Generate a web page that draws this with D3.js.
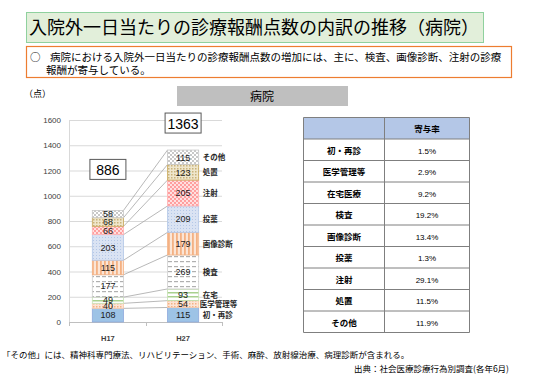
<!DOCTYPE html>
<html>
<head>
<meta charset="utf-8">
<script src="https://cdn.jsdelivr.net/npm/d3@7"></script>
<style>
body { margin: 0; background: #fff; }
svg { font-family: "Noto Sans CJK JP", "Noto Sans", sans-serif; }
</style>
</head>
<body>
<div class="chart"></div>
<script>
const WIDTH = 534;
const HEIGHT = 375;

// data
const years = ['H17', 'H27'];
const categories = ['初・再診', '医学管理等', '在宅', '検査', '画像診断', '投薬', '注射', '処置', 'その他'];
const valuesH17 = [108, 40, 49, 177, 115, 203, 66, 68, 58];
const valuesH27 = [115, 54, 93, 269, 179, 209, 205, 123, 115];
const totals = [886, 1363];
const yTicks = [0, 200, 400, 600, 800, 1000, 1200, 1400, 1600];
const tableItems = ['初・再診', '医学管理等', '在宅医療', '検査', '画像診断', '投薬', '注射', '処置', 'その他'];
const contribution = ['1.5%', '2.9%', '9.2%', '19.2%', '13.4%', '1.3%', '29.1%', '11.5%', '11.9%'];

var translate = function(x, y){
	return "translate(" + x + "," + y + ")";
};

var svg = d3.select('.chart').append('svg')
	.attr('width', WIDTH)
	.attr('height', HEIGHT);

// patterns
var defs = svg.append('defs');
var pat = function(id, w, h, bg){
	var p = defs.append('pattern').attr('id', id)
		.attr('patternUnits', 'userSpaceOnUse')
		.attr('width', w).attr('height', h);
	p.append('rect').attr('width', w).attr('height', h).attr('fill', bg);
	return p;
};
var p;
pat('p0', 4, 4, '#9dc3e6');
p = pat('p1', 3, 3, '#fce4d6');
p.append('rect').attr('x', 0).attr('y', 0).attr('width', 1.5).attr('height', 1.5).attr('fill', '#f4b183');
p = pat('p2', 4, 4, '#ffffff');
p.append('rect').attr('x', 0).attr('y', 0).attr('width', 4).attr('height', 1.5).attr('fill', '#a9d18e');
p = pat('p3', 6, 5, '#ffffff');
p.append('rect').attr('x', 0).attr('y', 1).attr('width', 4).attr('height', 1.2).attr('fill', '#b0b0b0');
p = pat('p4', 4, 4, '#fbe5d6');
p.append('rect').attr('x', 0).attr('y', 0).attr('width', 1.8).attr('height', 4).attr('fill', '#f4b183');
p = pat('p5', 3, 3, '#dae3f3');
p.append('rect').attr('x', 0).attr('y', 0).attr('width', 1).attr('height', 1).attr('fill', '#b4c7e7');
p = pat('p6', 4, 4, '#ffe0e0');
p.append('circle').attr('cx', 1).attr('cy', 1).attr('r', 0.9).attr('fill', '#ff8080');
p.append('circle').attr('cx', 3).attr('cy', 3).attr('r', 0.9).attr('fill', '#ff8080');
p = pat('p7', 3, 3, '#efe6cc');
p.append('rect').attr('x', 0).attr('y', 0).attr('width', 1.5).attr('height', 1.5).attr('fill', '#c9b27a');
p = pat('p8', 4, 4, '#ffffff');
p.append('rect').attr('x', 0).attr('y', 0).attr('width', 2).attr('height', 2).attr('fill', '#c8c8c8');
p.append('rect').attr('x', 2).attr('y', 2).attr('width', 2).attr('height', 2).attr('fill', '#c8c8c8');

const strokes = ['#8faadc', '#f8cbad', '#c5e0b4', '#d0d0d0', '#f4b183', '#b4c7e7', '#ffb3b3', '#c9a85a', '#c8c8c8'];

// title
svg.append('rect').attr('x', 26.5).attr('y', 12.5).attr('width', 457).attr('height', 30)
	.attr('fill', '#e2efda').attr('stroke', '#8fd19e').attr('stroke-width', 1);
svg.append('text').attr('x', 254).attr('y', 34).attr('text-anchor', 'middle')
	.attr('font-size', 18).attr('fill', '#000')
	.text('入院外一日当たりの診療報酬点数の内訳の推移（病院）');

// note box
svg.append('rect').attr('x', 26.5).attr('y', 46.5).attr('width', 485).attr('height', 31)
	.attr('fill', '#fff').attr('stroke', '#ed7d31').attr('stroke-width', 1.2);
svg.append('text').attr('x', 30).attr('y', 61).attr('font-size', 10.5).text('○');
svg.append('text').attr('x', 50).attr('y', 61).attr('font-size', 10.5)
	.text('病院における入院外一日当たりの診療報酬点数の増加には、主に、検査、画像診断、注射の診療');
svg.append('text').attr('x', 46).attr('y', 74).attr('font-size', 10.5).text('報酬が寄与している。');

// header
svg.append('rect').attr('x', 177).attr('y', 86).attr('width', 171).attr('height', 20).attr('fill', '#bfbfbf');
svg.append('text').attr('x', 262).attr('y', 101).attr('text-anchor', 'middle')
	.attr('font-size', 12).text('病院');

svg.append('text').attr('x', 24).attr('y', 97).attr('font-size', 9).text('（点）');

// chart
const X0 = 69, X1 = 222, Y0 = 322, Y1 = 120;
var xScale = d3.scaleBand().domain(years).range([X0, X1]).paddingInner(0.585).paddingOuter(0.31);
var yScale = d3.scaleLinear().domain([0, 1600]).range([Y0, Y1]);

var yAxis = d3.axisLeft(yScale).tickValues(yTicks).tickFormat(d3.format('d')).tickSize(0).tickPadding(8);
var gy = svg.append('g').attr('transform', translate(X0, 0)).call(yAxis);
gy.select('.domain').remove();
gy.selectAll('text').attr('font-size', 8).attr('fill', '#404040').attr('font-family', 'Liberation Sans, Arial, sans-serif');

svg.append('g').selectAll('line').data(yTicks.slice(1)).enter().append('line')
	.attr('x1', X0).attr('x2', X1)
	.attr('y1', function(d){ return yScale(d) + 0.5; })
	.attr('y2', function(d){ return yScale(d) + 0.5; })
	.attr('stroke', '#d9d9d9');
svg.append('line').attr('x1', X0).attr('x2', X1).attr('y1', Y0 + 0.5).attr('y2', Y0 + 0.5).attr('stroke', '#bfbfbf');
svg.append('line').attr('x1', X0 + 0.5).attr('x2', X0 + 0.5).attr('y1', Y1).attr('y2', Y0).attr('stroke', '#d9d9d9');
var sep = [X0, X0 + (X1 - X0) / 2, X1];
svg.append('g').selectAll('line').data(sep).enter().append('line')
	.attr('x1', function(d){ return Math.round(d) + 0.5; })
	.attr('x2', function(d){ return Math.round(d) + 0.5; })
	.attr('y1', Y0).attr('y2', Y0 + 4).attr('stroke', '#bfbfbf');

svg.append('g').selectAll('text').data(years).enter().append('text')
	.attr('x', function(d){ return xScale(d) + xScale.bandwidth() / 2; })
	.attr('y', 341).attr('text-anchor', 'middle').attr('font-size', 7.5)
	.attr('font-weight', 'bold').attr('fill', '#404040')
	.attr('font-family', 'Liberation Sans, Arial, sans-serif')
	.text(function(d){ return d; });

var rows = [valuesH17, valuesH27].map(function(vals, i){
	var r = { year: years[i] };
	categories.forEach(function(c, j){ r[c] = vals[j]; });
	return r;
});
var series = d3.stack().keys(categories)(rows);

// connector lines
var bw = xScale.bandwidth();
svg.append('g').selectAll('line').data(series).enter().append('line')
	.attr('x1', xScale('H17') + bw)
	.attr('y1', function(s){ return yScale(s[0][1]); })
	.attr('x2', xScale('H27'))
	.attr('y2', function(s){ return yScale(s[1][1]); })
	.attr('stroke', '#a6a6a6').attr('stroke-width', 0.8);

var layers = svg.append('g').selectAll('g').data(series).enter().append('g')
	.attr('fill', function(s, i){ return 'url(#p' + i + ')'; })
	.attr('stroke', function(s, i){ return strokes[i]; });
layers.selectAll('rect').data(function(s){ return s; }).enter().append('rect')
	.attr('x', function(d){ return xScale(d.data.year); })
	.attr('y', function(d){ return yScale(d[1]); })
	.attr('width', bw)
	.attr('height', function(d){ return yScale(d[0]) - yScale(d[1]); })
	.attr('stroke-width', 0.8);

// value labels
series.forEach(function(s){
	s.forEach(function(d){
		var v = d[1] - d[0];
		svg.append('text')
			.attr('x', xScale(d.data.year) + bw / 2)
			.attr('y', (yScale(d[0]) + yScale(d[1])) / 2 + 3.2)
			.attr('text-anchor', 'middle').attr('font-size', 9).attr('fill', '#1a1a1a')
			.attr('font-family', 'Liberation Sans, Arial, sans-serif')
			.text(v);
	});
});

// right labels for H27
series.forEach(function(s, i){
	var d = s[1];
	svg.append('text')
		.attr('x', xScale('H27') + bw + (i === 1 ? 1 : 4))
		.attr('y', (yScale(d[0]) + yScale(d[1])) / 2 + 3)
		.attr('font-size', 7.5).attr('font-weight', 'bold').attr('fill', '#262626')
		.text(categories[i]);
});

// totals boxes
var totalBoxes = [
	{ year: 'H17', value: totals[0], top: valuesH17.reduce(function(a, b){ return a + b; }, 0) },
	{ year: 'H27', value: totals[1], top: valuesH27.reduce(function(a, b){ return a + b; }, 0) }
];
var tb = svg.append('g').selectAll('g').data(totalBoxes).enter().append('g');
tb.append('rect')
	.attr('x', function(d){ return xScale(d.year) + bw / 2 - 18; })
	.attr('y', function(d){ return yScale(d.top) - (d.year === 'H17' ? 51 : 37); })
	.attr('width', 36).attr('height', 20)
	.attr('fill', '#fff').attr('stroke', '#595959');
tb.append('text')
	.attr('x', function(d){ return xScale(d.year) + bw / 2; })
	.attr('y', function(d){ return yScale(d.top) - (d.year === 'H17' ? 35 : 21); })
	.attr('text-anchor', 'middle').attr('font-size', 14)
	.attr('font-family', 'Liberation Sans, Arial, sans-serif')
	.text(function(d){ return d.value; });

// table
const TX = 303.5, TY = 117.5, COL = 81, COL2 = 85, RH = 21.5;
var table = svg.append('g');
table.append('rect').attr('x', TX).attr('y', TY).attr('width', COL + COL2).attr('height', RH)
	.attr('fill', '#b4c7e7');
table.append('text').attr('x', TX + COL + COL2 / 2).attr('y', TY + 14.5).attr('text-anchor', 'middle')
	.attr('font-size', 8.5).attr('font-weight', 'bold').text('寄与率');
var tr = table.selectAll('g.row').data(tableItems).enter().append('g')
	.attr('transform', function(d, i){ return translate(0, TY + RH * (i + 1)); });
tr.append('text').attr('x', TX + COL / 2).attr('y', 14.5).attr('text-anchor', 'middle')
	.attr('font-size', 8.5).attr('font-weight', 'bold').text(function(d){ return d; });
tr.append('text').attr('x', TX + COL + COL2 / 2).attr('y', 14.5).attr('text-anchor', 'middle')
	.attr('font-size', 8).attr('font-family', 'Liberation Sans, Arial, sans-serif')
	.text(function(d, i){ return contribution[i]; });
d3.range(tableItems.length + 2).forEach(function(i){
	table.append('line').attr('x1', TX).attr('x2', TX + COL + COL2)
		.attr('y1', TY + RH * i).attr('y2', TY + RH * i).attr('stroke', '#7f7f7f').attr('stroke-width', 1);
});
[TX, TX + COL, TX + COL + COL2].forEach(function(x){
	table.append('line').attr('x1', x).attr('x2', x)
		.attr('y1', TY).attr('y2', TY + RH * (tableItems.length + 1)).attr('stroke', '#7f7f7f');
});

// footnotes
svg.append('text').attr('x', 2).attr('y', 358).attr('font-size', 8.5)
	.text('「その他」には、精神科専門療法、リハビリテーション、手術、麻酔、放射線治療、病理診断が含まれる。');
svg.append('text').attr('x', 509).attr('y', 372).attr('text-anchor', 'end').attr('font-size', 8.5)
	.text('出典：社会医療診療行為別調査(各年6月)');
</script>
</body>
</html>
